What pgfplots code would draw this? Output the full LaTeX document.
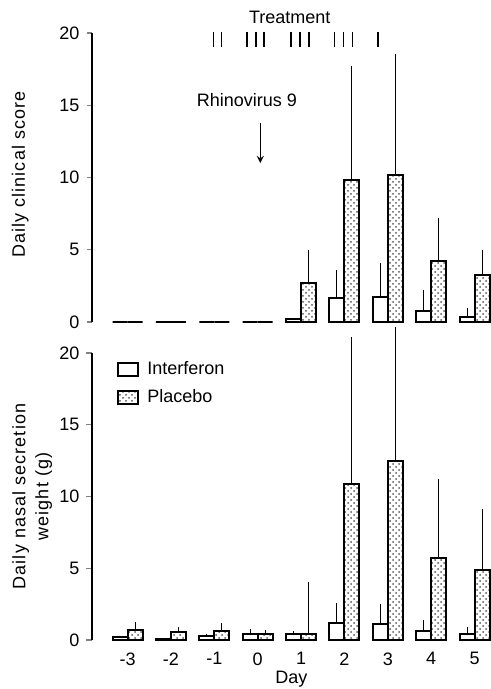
\documentclass[border=0pt]{standalone}
\usepackage{fontspec}
\setmainfont{Liberation Sans}
\usepackage{pgfplots}
\usepackage{pgfplotstable}
\pgfplotsset{compat=1.18}
\usetikzlibrary{patterns}

% day  mean  err(upper)
\pgfplotstableread{
x y e
-3 0 0
-2 0 0
-1 0 0
0 0 0
1 0.2 0
2 1.65 1.95
3 1.75 2.3
4 0.75 1.45
5 0.35 0.6
}\topIFN
\pgfplotstableread{
x y e
-3 0 0
-2 0 0
-1 0 0
0 0 0
1 2.7 2.25
2 9.85 7.85
3 10.15 8.4
4 4.25 2.95
5 3.25 1.75
}\topPLA
\pgfplotstableread{
x y e
-3 0.18 0
-2 0.05 0
-1 0.28 0.14
0 0.42 0.32
1 0.42 0.23
2 1.16 1.44
3 1.1 1.4
4 0.65 0.75
5 0.42 0.5
}\botIFN
\pgfplotstableread{
x y e
-3 0.7 0.56
-2 0.58 0.35
-1 0.65 0.5
0 0.42 0.3
1 0.42 3.6
2 10.9 10.2
3 12.45 9.35
4 5.7 5.5
5 4.88 4.25
}\botPLA

\newcommand\lbl{\fontsize{9}{11}\selectfont}
\newcommand\ylbl{\fontsize{9}{11.5}\selectfont\addfontfeature{LetterSpace=6}}

\pgfplotsset{
  panel/.style={
    scale only axis, width=199.5pt,
    xmin=-3.82, xmax=5.38, ymin=0, ymax=20,
    axis lines=left, axis line style={-, line width=0.6pt},
    x axis line style={draw=none},
    ytick={0,5,10,15,20}, tick align=outside,
    major tick length=2.75pt, ytick style={line width=0.6pt},
    xtick style={draw=none},
    tick label style={font=\lbl},
    label style={font=\ylbl},
    /pgf/number format/assume math mode=true,
    clip=false,
    ybar, bar width=7.5pt,
  },
  ifn/.style={draw=black, fill=white, line width=1pt, bar shift=-3.75pt,
    error bars/.cd, y dir=plus, y explicit, error mark=none,
    error bar style={line width=0.5pt}},
  pla/.style={draw=black, line width=1pt, bar shift=3.75pt,
    pattern=crosshatch dots, pattern color=black!65,
    error bars/.cd, y dir=plus, y explicit, error mark=none,
    error bar style={line width=0.5pt}},
}

\begin{document}
\begin{tikzpicture}
\path[use as bounding box] (-46pt,-24.5pt) rectangle (199.5pt,320pt);

% bottom panel
\begin{axis}[panel, at={(0,0)}, anchor=south west, height=143.5pt,
  xtick={-3,...,5}, xlabel={Day},
  xlabel style={font=\lbl, yshift=4pt},
  ylabel={Daily nasal secretion\\weight (g)},
  ylabel style={align=center, at={(axis description cs:-0.15,0.5)}, anchor=center},
  legend style={at={(0.062,0.985)}, anchor=north west, draw=none, fill=none,
    font=\lbl, row sep=2pt, inner sep=0pt},
  legend cell align=left,
]
\addplot[forget plot, ifn] table[x=x, y=y, y error=e] {\botIFN};
\addplot[forget plot, pla] table[x=x, y=y, y error=e] {\botPLA};
\addlegendimage{legend image code/.code={\draw[black, fill=white, line width=0.8pt] (0pt,-3.25pt) rectangle (10pt,3.25pt); \path (12.5pt,0pt);}}
\addlegendentry{Interferon}
\addlegendimage{legend image code/.code={\draw[black, line width=0.8pt, pattern=crosshatch dots, pattern color=black!65] (0pt,-3.25pt) rectangle (10pt,3.25pt); \path (12.5pt,0pt);}}
\addlegendentry{Placebo}
\end{axis}

% top panel
\begin{axis}[panel, at={(0,159pt)}, anchor=south west, height=144.5pt,
  xtick=\empty,
  ylabel={Daily clinical score},
  ylabel style={at={(axis description cs:-0.18,0.51)}, anchor=center},
]
\addplot[ifn] table[x=x, y=y, y error=e] {\topIFN};
\addplot[pla] table[x=x, y=y, y error=e] {\topPLA};
% treatment doses
\addplot[only marks, mark=|, mark size=3.75pt, mark options={line width=0.7pt}, draw=black]
  coordinates {(-1.02,19.55) (-0.83,19.55) (-0.25,19.55) (-0.04,19.55) (0.15,19.55)
  (0.77,19.55) (0.98,19.55) (1.18,19.55) (1.77,19.55) (1.98,19.55) (2.18,19.55) (2.77,19.55)};
\node[font=\lbl] at (axis cs:0.74,21.05) {Treatment};
\node[font=\lbl] at (axis cs:-0.25,15.35) {Rhinovirus 9};
\draw[-{stealth}, line width=0.6pt] (axis cs:0.06,13.8) -- (axis cs:0.06,11.0);
\end{axis}
\end{tikzpicture}
\end{document}
